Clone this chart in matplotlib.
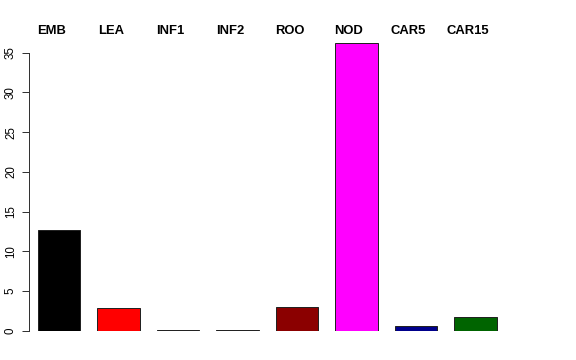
import matplotlib
matplotlib.use("Agg")
import matplotlib.pyplot as plt
import matplotlib.transforms as mtransforms

categories = ["EMB", "LEA", "INF1", "INF2", "ROO", "NOD", "CAR5", "CAR15"]
values = [12.75, 2.9, 0.15, 0.15, 3.05, 36.2, 0.62, 1.8]
colors = ["#000000", "#FF0000", "#1A2A1A", "#101018", "#8B0000", "#FF00FF", "#00008B", "#006400"]
yticks = [0, 5, 10, 15, 20, 25, 30, 35]

plt.rcParams['font.family'] = ['Liberation Sans', 'DejaVu Sans']

fig = plt.figure(figsize=(8, 5), dpi=72)
ax = fig.add_axes([0.0503, 0.0806, 0.892 - 0.0503, 0.8978 - 0.0806])

space = 0.4
width = 1.0
centers = [space + width / 2 + i * (space + width) for i in range(len(values))]
ax.bar(centers, values, width=width, color=colors, edgecolor="#222222", linewidth=1.0)

ax.set_xlim(0.188, 11.6)
ax.set_ylim(0, 37)

for s in ["top", "right", "bottom"]:
    ax.spines[s].set_visible(False)
ax.spines["left"].set_bounds(0, 35)
ax.spines["left"].set_linewidth(1.0)
ax.spines["left"].set_color("#333333")
ax.set_xticks([])
ax.set_yticks(yticks)
ax.set_yticklabels([str(t) for t in yticks], rotation=90, va="center", fontsize=11.5)
ax.tick_params(axis="y", length=7, width=1.0, pad=5, color="#333333")

trans = mtransforms.blended_transform_factory(ax.transData, ax.transAxes)
for c, lab in zip(centers, categories):
    ax.text(c - 0.18, 1.0095, lab, transform=trans, ha="center", va="baseline",
            fontsize=13, fontweight="bold")

fig.savefig("out.png", dpi=72)
